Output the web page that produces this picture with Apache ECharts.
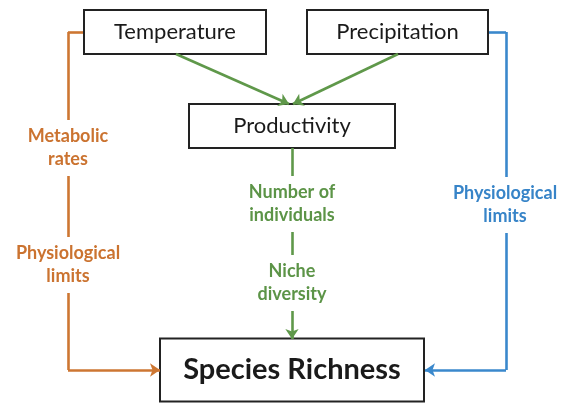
<!DOCTYPE html>
<html>
<head>
<meta charset="utf-8">
<script src="https://cdn.jsdelivr.net/npm/echarts@6/dist/echarts.min.js"></script>
<style>
  html, body { margin: 0; padding: 0; background: #fff; }
  #main { width: 569px; height: 404px; }
</style>
</head>
<body>
<div id="main"></div>
<script>
  // boxes of the diagram
  var boxNames = ['Temperature', 'Precipitation', 'Productivity', 'Species Richness']
  var boxCenters = [[175, 32], [397.5, 32], [292, 126], [292, 370]]
  var boxSizes = [[182, 44], [181, 44], [206, 44], [264, 63]]

  // arrows (from -> to), drawn as polylines, last point is the arrow tip
  var linkNames = ['Temperature-Richness', 'Precipitation-Richness', 'Temperature-Productivity', 'Precipitation-Productivity', 'Productivity-Richness']
  var linkPaths = [
    [[84, 32], [68, 32], [68, 370], [160, 370]],
    [[488, 32], [506, 32], [506, 370], [425, 370]],
    [[176, 54], [289, 104]],
    [[398, 54], [293, 104]],
    [[292, 148], [292, 339]]
  ]
  var linkColors = ['#CD7632', '#3A88CC', '#5F984A', '#5F984A', '#5F984A']

  // mechanism labels sitting on the arrows
  var labelTexts = ['Metabolic\nrates', 'Physiological\nlimits', 'Physiological\nlimits', 'Number of\nindividuals', 'Niche\ndiversity']
  var labelPos = [[68, 148], [68, 265], [505, 205], [292, 204], [292, 283]]
  var labelColors = ['#CB7330', '#CB7330', '#3784C8', '#5C9447', '#5C9447']

  var chart = echarts.init(document.getElementById('main'))

  var boxData = boxNames.map(function (n, i) {
    return [boxCenters[i][0], boxCenters[i][1], boxSizes[i][0], boxSizes[i][1]]
  })

  // split each path: plain segments + a last segment with the arrow head
  var plainSegs = []
  var arrowSegs = []
  linkPaths.forEach(function (p, i) {
    for (var k = 0; k < p.length - 1; k++) {
      var seg = {
        name: linkNames[i],
        coords: [p[k], p[k + 1]],
        lineStyle: { color: linkColors[i], width: 2.6, opacity: 1 }
      }
      if (k === p.length - 2) arrowSegs.push(seg)
      else plainSegs.push(seg)
    }
  })

  chart.setOption({
    animation: false,
    backgroundColor: '#fff',
    grid: { left: 0, right: 0, top: 0, bottom: 0 },
    xAxis: { type: 'value', min: 0, max: 569, show: false },
    yAxis: { type: 'value', min: 0, max: 404, inverse: true, show: false },
    series: [
      {
        type: 'lines',
        coordinateSystem: 'cartesian2d',
        z: 1,
        symbol: ['none', 'none'],
        data: plainSegs
      },
      {
        type: 'custom',
        z: 2,
        data: boxData,
        renderItem: function (params, api) {
          var c = api.coord([api.value(0), api.value(1)])
          var s = api.size([api.value(2), api.value(3)], [api.value(0), api.value(1)])
          var big = params.dataIndex === 3
          return {
            type: 'rect',
            shape: { x: c[0] - s[0] / 2, y: c[1] - s[1] / 2, width: s[0], height: s[1] },
            style: { fill: '#fff', stroke: '#222', lineWidth: 2 },
            textContent: {
              style: {
                text: boxNames[params.dataIndex],
                fontFamily: 'Lato',
                fontSize: big ? 29 : 22,
                fontWeight: big ? 'bold' : 'normal',
                fill: '#1a1a1a'
              }
            },
            textConfig: { position: 'inside' }
          }
        }
      },
      {
        type: 'lines',
        coordinateSystem: 'cartesian2d',
        z: 3,
        symbol: ['none', 'arrow'],
        symbolSize: 10,
        data: arrowSegs
      },
      {
        type: 'scatter',
        z: 4,
        symbolSize: 0,
        itemStyle: { opacity: 1 },
        data: labelPos.map(function (p, i) {
          return {
            value: p,
            label: {
              show: true,
              position: 'inside',
              formatter: labelTexts[i],
              color: labelColors[i],
              opacity: 1,
              fontFamily: 'Lato',
              fontWeight: 'bold',
              fontSize: 18,
              lineHeight: 23,
              align: 'center',
              backgroundColor: '#fff',
              padding: [5, 2]
            }
          }
        })
      }
    ]
  })
</script>
</body>
</html>
